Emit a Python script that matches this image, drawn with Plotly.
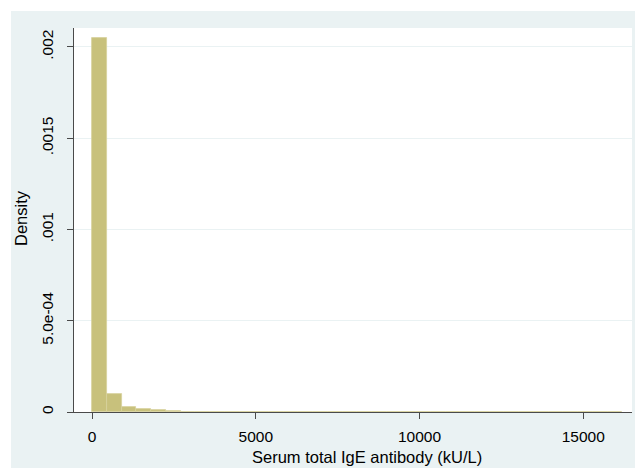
import plotly.graph_objects as go

# Histogram data (density per bin)
bin_start = 9.0
bin_width = 449.5
densities = [
    0.002050, 0.0000970, 0.0000300, 0.0000185, 0.0000110, 0.0000050,
    0, 0, 0, 0.0000017, 0, 0.0000017,
    0, 0.0000017, 0, 0.0000017, 0, 0.0000017,
    0.0000017, 0, 0, 0, 0, 0,
    0, 0, 0, 0, 0, 0,
    0, 0, 0, 0, 0, 0.0000017,
]
x_ticks = [0, 5000, 10000, 15000]
x_tick_labels = ["0", "5000", "10000", "15000"]
y_ticks = [0, 0.0005, 0.001, 0.0015, 0.002]
y_tick_labels = ["0", "5.0e-04", ".001", ".0015", ".002"]
x_title = "Serum total IgE antibody (kU/L)"
y_title = "Density"

lefts = [bin_start + i * bin_width for i in range(len(densities))]

FONT = "Liberation Sans, Arial, Helvetica, sans-serif"
BG = "#eaf2f3"
AXIS = "#4a4a4a"

fig = go.Figure()
fig.add_trace(go.Bar(
    x=lefts, y=densities, width=[bin_width] * len(densities), offset=0,
    marker=dict(color="#c8c17c", line=dict(color="#d6d09c", width=0.8)),
    hoverinfo="skip",
))

W, H = 635, 468
L, R, T, B = 74, 3, 28, 56
pw, ph = W - L - R, H - T - B

def px_x(p):
    return (p - L) / pw

def px_y(p):
    return (H - B - p) / ph

# light graph region, then white plot region on top of it
fig.add_shape(type="rect", xref="paper", yref="paper",
              x0=px_x(11), x1=px_x(640), y0=px_y(475), y1=px_y(11),
              fillcolor=BG, line=dict(width=0), layer="below")
fig.add_shape(type="rect", xref="paper", yref="paper",
              x0=0, x1=1, y0=0, y1=1,
              fillcolor="white", line=dict(width=0), layer="below")

fig.update_layout(
    width=W, height=H,
    margin=dict(l=L, r=R, t=T, b=B, pad=0),
    paper_bgcolor="white", plot_bgcolor="white",
    bargap=0, showlegend=False,
    font=dict(family=FONT, color="black", size=15.5),
    xaxis=dict(
        range=[-550, 16489], tickmode="array", tickvals=x_ticks, ticktext=x_tick_labels,
        showgrid=False, zeroline=False, showline=True, linecolor=AXIS, linewidth=1,
        ticks="outside", ticklen=6, tickcolor=AXIS, tickwidth=1, ticklabelstandoff=4,
        tickfont=dict(size=15.5, family=FONT, color="black"),
    ),
    yaxis=dict(
        range=[0, 0.002104], tickmode="array", tickvals=y_ticks, ticktext=y_tick_labels,
        showgrid=True, gridcolor=BG, gridwidth=1, zeroline=False,
        showline=True, linecolor=AXIS, linewidth=1,
        ticks="outside", ticklen=6, tickcolor=AXIS, tickwidth=1, tickangle=-90,
        ticklabelstandoff=8,
        tickfont=dict(size=15.5, family=FONT, color="black"),
    ),
    annotations=[
        dict(text=x_title, xref="paper", yref="paper", x=px_x(367), y=px_y(457),
             showarrow=False, xanchor="center", yanchor="middle",
             font=dict(size=16.5, family=FONT, color="black")),
        dict(text=y_title, xref="paper", yref="paper", x=px_x(21), y=px_y(218),
             showarrow=False, xanchor="center", yanchor="middle", textangle=-90,
             font=dict(size=16.5, family=FONT, color="black")),
    ],
)

fig.write_html(
    "out.html",
    config={"displayModeBar": False},
    post_script="document.body.style.margin='0';document.body.style.padding='0';"
                "document.documentElement.style.overflow='hidden';",
)
